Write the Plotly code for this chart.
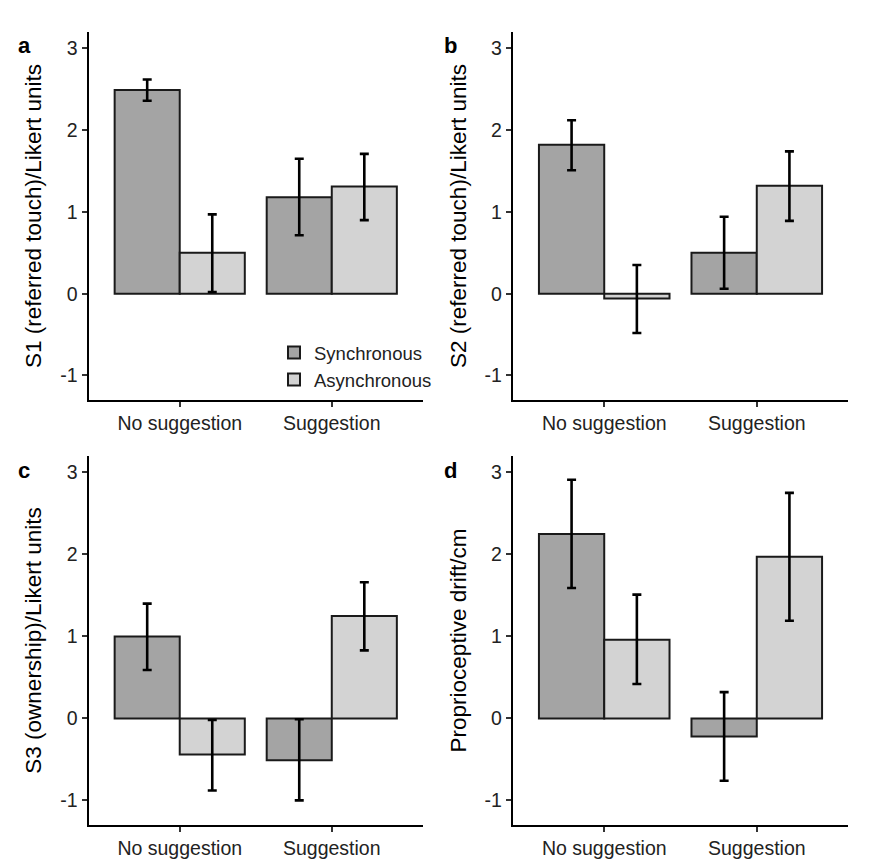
import plotly.graph_objects as go

categories = ["No suggestion", "Suggestion"]
series_names = ["Synchronous", "Asynchronous"]
panel_letters = ["a", "b", "c", "d"]
y_titles = ["S1 (referred touch)/Likert units", "S2 (referred touch)/Likert units",
            "S3 (ownership)/Likert units", "Proprioceptive drift/cm"]
y_tickvals = [-1, 0, 1, 2, 3]
y_ticktext = ["-1", "0", "1", "2", "3"]

# panel a
a_sync = [2.49, 1.18]; a_sync_hi = [2.62, 1.65]; a_sync_lo = [2.36, 0.715]
a_async = [0.50, 1.31]; a_async_hi = [0.97, 1.71]; a_async_lo = [0.02, 0.90]
# panel b
b_sync = [1.82, 0.50]; b_sync_hi = [2.12, 0.94]; b_sync_lo = [1.51, 0.06]
b_async = [-0.06, 1.32]; b_async_hi = [0.35, 1.74]; b_async_lo = [-0.48, 0.89]
# panel c
c_sync = [1.00, -0.51]; c_sync_hi = [1.40, -0.01]; c_sync_lo = [0.59, -1.00]
c_async = [-0.44, 1.25]; c_async_hi = [-0.02, 1.66]; c_async_lo = [-0.88, 0.83]
# panel d
d_sync = [2.25, -0.22]; d_sync_hi = [2.91, 0.32]; d_sync_lo = [1.59, -0.76]
d_async = [0.96, 1.97]; d_async_hi = [1.51, 2.75]; d_async_lo = [0.42, 1.19]

panels = [
    (a_sync, a_sync_hi, a_sync_lo, a_async, a_async_hi, a_async_lo),
    (b_sync, b_sync_hi, b_sync_lo, b_async, b_async_hi, b_async_lo),
    (c_sync, c_sync_hi, c_sync_lo, c_async, c_async_hi, c_async_lo),
    (d_sync, d_sync_hi, d_sync_lo, d_async, d_async_hi, d_async_lo),
]

W, H = 875, 868
x_doms = [(88.5 / W, 423 / W), (512.7 / W, 848.3 / W)]
y_doms = [(1 - 400 / H, 1 - 32 / H), (1 - 825 / H, 1 - 456 / H)]
colors = ["#a4a4a4", "#d3d3d3"]
bw = 0.428
FONT = "Liberation Sans, Arial, sans-serif"

fig = go.Figure()
layout = dict(
    width=W, height=H, margin=dict(l=0, r=0, t=0, b=0),
    paper_bgcolor="white", plot_bgcolor="white",
    barmode="overlay", font=dict(family=FONT, size=18, color="#222"),
    showlegend=True,
    legend=dict(x=274 / W, y=1 - 334 / H, xanchor="left", yanchor="top",
                bgcolor="rgba(0,0,0,0)", font=dict(size=18.5, color="#222"),
                tracegroupgap=0, itemwidth=30),
)
annotations = []
for i, (s, shi, slo, a_, ahi, alo) in enumerate(panels):
    r, c = divmod(i, 2)
    xa = "x" if i == 0 else f"x{i+1}"
    ya = "y" if i == 0 else f"y{i+1}"
    for j, (vals, hi, lo) in enumerate([(s, shi, slo), (a_, ahi, alo)]):
        fig.add_trace(go.Bar(
            x=categories, y=vals, name=series_names[j],
            width=bw, offset=-bw if j == 0 else 0,
            marker=dict(color=colors[j], line=dict(color="#1a1a1a", width=2)),
            error_y=dict(type="data", symmetric=False,
                         array=[h - v for h, v in zip(hi, vals)],
                         arrayminus=[v - l for v, l in zip(vals, lo)],
                         color="black", thickness=2.6, width=4.5),
            xaxis=xa, yaxis=ya, showlegend=(i == 0),
        ))
    xkey = "xaxis" if i == 0 else f"xaxis{i+1}"
    ykey = "yaxis" if i == 0 else f"yaxis{i+1}"
    layout[xkey] = dict(domain=x_doms[c], anchor=ya, type="category",
                        range=[-0.6, 1.6], showline=True, linecolor="black",
                        linewidth=2, ticks="outside", ticklen=5, tickwidth=1.5,
                        tickcolor="#333", showgrid=False, zeroline=False,
                        tickfont=dict(size=19.5, color="#222"))
    layout[ykey] = dict(domain=y_doms[r], anchor=xa, range=[-1.3, 3.2],
                        tickvals=y_tickvals, ticktext=y_ticktext,
                        showline=True,
                        linecolor="black", linewidth=2, ticks="outside",
                        ticklen=5, tickwidth=1.5, tickcolor="#333",
                        showgrid=False, zeroline=False,
                        tickfont=dict(size=19.5, color="#222"),
                        title=dict(text=y_titles[i], standoff=12,
                                   font=dict(size=22.5, color="black")))
    annotations.append(dict(
        text=f"<b>{panel_letters[i]}</b>", xref="paper", yref="paper",
        x=(16 if c == 0 else 442) / W, y=1 - (31 if r == 0 else 456) / H,
        xanchor="left", yanchor="top", showarrow=False,
        font=dict(size=22, color="black")))
layout["annotations"] = annotations
fig.update_layout(**layout)
fig.write_html("out.html")
